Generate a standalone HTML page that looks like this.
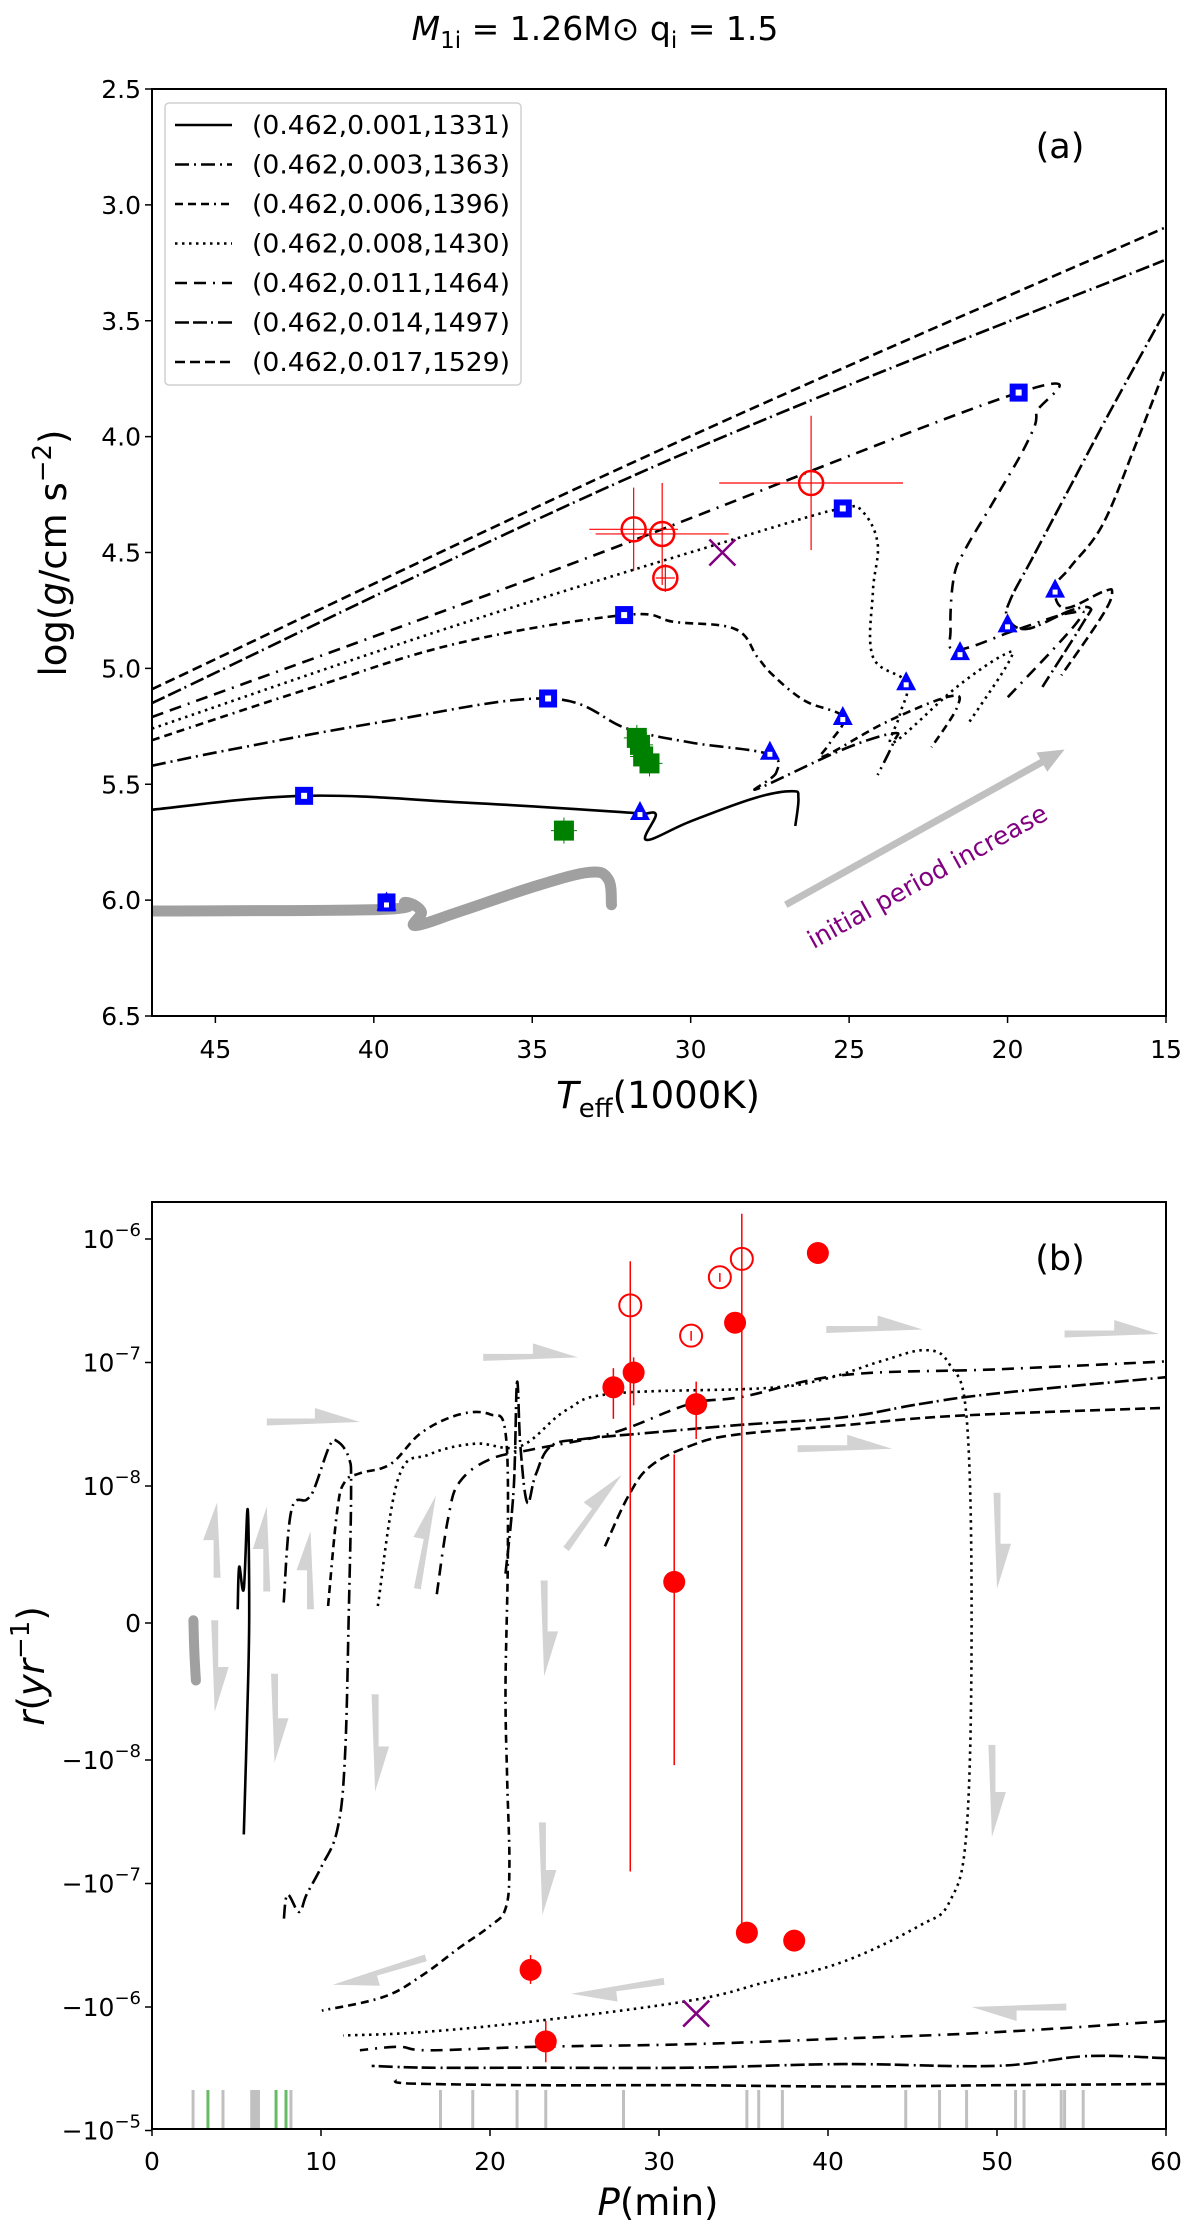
<!DOCTYPE html>
<html><head><meta charset="utf-8"><title>Evolution tracks</title>
<style>
html,body{margin:0;padding:0;background:#fff}
svg{display:block}
text{font-family:"DejaVu Sans","Liberation Sans",sans-serif;fill:#000}
</style></head>
<body>
<svg id="fig" width="1200" height="2231" viewBox="0 0 1200 2231" xmlns="http://www.w3.org/2000/svg">
<defs>
<clipPath id="clipA"><rect x="152" y="89" width="1014" height="927"/></clipPath>
<clipPath id="clipB"><rect x="152" y="1202" width="1014" height="927"/></clipPath>
</defs>
<text x="595" y="40" font-size="33" text-anchor="middle"><tspan font-style="italic">M</tspan><tspan font-size="23" dy="8">1i</tspan><tspan dy="-8"> = 1.26M</tspan><tspan>⊙ q</tspan><tspan font-size="23" dy="8">i</tspan><tspan dy="-8"> = 1.5</tspan></text>
<g id="panelA"></g>
<g id="panelB"></g>
</svg>
<script>
// ---------- Panel (a) data ----------
const tTicks = [45, 40, 35, 30, 25, 20, 15];
const gTicks = [2.5, 3.0, 3.5, 4.0, 4.5, 5.0, 5.5, 6.0, 6.5];
const legendLabels = ["(0.462,0.001,1331)","(0.462,0.003,1363)","(0.462,0.006,1396)","(0.462,0.008,1430)","(0.462,0.011,1464)","(0.462,0.014,1497)","(0.462,0.017,1529)"];
const track1T = [47,42.2,37,32.2,31.6,31.1,31.4,30,28,26.8,26.6,26.7];
const track1G = [5.61,5.55,5.58,5.62,5.63,5.63,5.74,5.66,5.56,5.53,5.56,5.68];
const track2T = [47,44.5,39.7,34.5,32.0,30.0,27.55,27.3,27.9,25.2,23.6,23.6,24.1];
const track2G = [5.42,5.35,5.23,5.13,5.26,5.32,5.37,5.45,5.52,5.35,5.28,5.32,5.46];
const track3T = [47,42.1,37.3,32.1,30.5,28.6,27.9,27.4,26.4,25.2,25.6,25.8,23.8,21.8,21.6,22.4];
const track3G = [5.31,5.09,4.89,4.77,4.80,4.83,4.95,5.03,5.14,5.21,5.32,5.38,5.23,5.12,5.17,5.34];
const track4T = [47,37.3,27.6,25.2,24.6,24.1,24.25,24.25,23.2,23.4,23.6,21.6,20.1,19.95,21.2];
const track4G = [5.26,4.81,4.40,4.31,4.32,4.46,4.67,4.95,5.06,5.20,5.32,5.08,4.94,4.97,5.23];
const track5T = [47,33.4,19.65,19.1,19.4,20.4,21.35,21.7,21.8,21.6,19.65,18.0,17.8,20.1];
const track5G = [5.21,4.53,3.81,3.90,4.03,4.27,4.49,4.61,4.83,4.92,4.83,4.76,4.80,5.14];
const track6T = [47,31.0,15.07,null,15.07,16.8,18.0,19.2,19.9,20.0,19.4,18.0,17.4,17.6,18.9];
const track6G = [5.15,4.12,3.24,null,3.47,3.90,4.21,4.52,4.70,4.78,4.83,4.75,4.74,4.80,5.08];
const track7T = [47,31.0,15.07,null,15.07,16.0,17.0,18.0,18.5,18.2,17.0,16.7,17.0,18.3];
const track7G = [5.09,4.06,3.10,null,3.72,4.05,4.38,4.56,4.65,4.74,4.67,4.67,4.77,5.03];
const grayT = [47,39.7,39.0,38.5,38.7,37.3,34.9,33.2,32.6,32.5];
const grayG = [6.047,6.04,6.01,6.05,6.11,6.05,5.94,5.88,5.91,6.02];
const squareT = [42.2,39.6,34.5,32.1,25.2,19.65];
const squareG = [5.55,6.01,5.13,4.77,4.31,3.81];
const triT = [39.6,31.6,27.5,25.2,23.2,21.5,20.0,18.5];
const triG = [6.01,5.62,5.36,5.21,5.06,4.93,4.81,4.66];
const obsT = [31.8,30.9,30.8,26.2];
const obsG = [4.40,4.42,4.61,4.20];
const obsTerr = [1.4,2.1,0.3,2.9];
const obsGerr = [0.18,0.22,0.06,0.29];
const xT = [29.0], xG = [4.50];
const greenT = [31.7,31.6,31.5,31.3,34.0];
const greenG = [5.30,5.33,5.38,5.41,5.70];

// ---------- Panel (b) data ----------
const pTicks = [0,10,20,30,40,50,60];
const rTicks = [1e-6,1e-7,1e-8,0,-1e-8,-1e-7,-1e-6,-1e-5];
const rTickExp = ["-6","-7","-8","","-8","-7","-6","-5"];
const b1P = [5.07,5.16,5.43,5.66,5.75,5.62,5.43];
const b1R = [1e-9,4.1e-9,2.5e-9,8.3e-9,4.7e-10,-7.3e-9,-4.0e-8];
const b2P = [7.79,8.24,9.15,9.6,10.5,10.96,11.64,11.78,11.64,11.41,10.96,10.05,9.15,8.7,8.02,7.79];
const b2R = [1.5e-9,8.2e-9,9e-9,9.8e-9,2.1e-8,2.3e-8,1.7e-8,9.8e-9,4.7e-10,-1e-8,-3.7e-8,-7.2e-8,-1.23e-7,-1.7e-7,-1.23e-7,-2.0e-7];
const b3P = [10.42,10.96,11.41,12.32,14.13,15.94,18.21,20.02,20.92,21.06,20.92,21.01,21.15,20.92,20.02,18.21,15.94,13.68,10.05];
const b3R = [1.24e-9,8.2e-9,1.08e-8,1.27e-8,1.51e-8,2.7e-8,3.8e-8,3.8e-8,2.7e-8,5.6e-9,-4.7e-9,-1.37e-8,-7.2e-8,-1.6e-7,-2.2e-7,-3.3e-7,-5.6e-7,-8.3e-7,-1.07e-6];
const b4P = [13.36,14.58,16.4,19.1,21.8,24.5,27.3,36.3,39.9,43.1,45.8,47.2,48.2,48.5,48.2,47.2,45.4,40.9,36.3,31.8,22.7,15.9,11.3];
const b4R = [1.24e-9,1.16e-8,1.8e-8,2.2e-8,2.1e-8,4.1e-8,5.6e-8,6.2e-8,7.4e-8,1.02e-7,1.26e-7,9.6e-8,3.6e-8,4.7e-10,-3.7e-8,-1.4e-7,-2.2e-7,-4.3e-7,-6.3e-7,-8.9e-7,-1.3e-6,-1.6e-6,-1.7e-6];
const b5P = [16.85,17.53,18.21,20.02,22.7,27.3,31.8,35.0,40.9,49.9,60,null,60,49.9,40.9,31.8,22.7,16.4,14.6,12.3];
const b5R = [2.1e-9,7.7e-9,1.08e-8,1.65e-8,2.0e-8,2.7e-8,4.6e-8,5.3e-8,7.9e-8,8.8e-8,1.02e-7,null,-1.3e-6,-1.6e-6,-1.8e-6,-2.0e-6,-2.1e-6,-2.24e-6,-2.1e-6,-2.24e-6];
const b6P = [20.92,21.4,21.6,21.8,22.2,22.7,23.6,25.5,29.5,34.5,40.9,45.4,49.9,60,null,60,55.3,49.9,40.9,31.8,22.7,16.4,13.0];
const b6R = [3.6e-9,9.8e-9,6.9e-8,2.1e-8,8.8e-9,1.23e-8,2.1e-8,2.4e-8,2.7e-8,3.1e-8,3.6e-8,4.6e-8,5.6e-8,7.6e-8,null,-2.6e-6,-2.5e-6,-3.0e-6,-2.9e-6,-3.1e-6,-3.1e-6,-3.1e-6,-3.0e-6];
const b7P = [26.8,28.2,29.5,31.8,34.5,40.9,47.6,60,null,60,49.9,40.9,31.8,22.7,16.4,14.6,14.4];
const b7R = [5.6e-9,9.3e-9,1.45e-8,2.1e-8,2.6e-8,3.1e-8,3.7e-8,4.3e-8,null,-4.2e-6,-4.3e-6,-4.4e-6,-4.3e-6,-4.3e-6,-4.2e-6,-4.1e-6,-3.9e-6];
const bGrayP = [2.45,2.5,2.6];
const bGrayR = [2e-10,-2e-9,-4.2e-9];
const fillP = [27.3,28.5,32.2,34.5,39.4,30.9,35.2,38.0,22.4,23.3];
const fillR = [6.3e-8,8.3e-8,4.6e-8,2.1e-7,7.7e-7,3.0e-9,-2.5e-7,-2.9e-7,-5.0e-7,-1.9e-6];
const fillLo = [3.5e-8,4.5e-8,2.4e-8,1.8e-7,7.5e-7,-1.1e-8,-2.5e-7,-2.9e-7,-6.5e-7,-2.8e-6];
const fillHi = [9.0e-8,1.1e-7,7.0e-8,2.4e-7,8.0e-7,1.8e-8,-2.5e-7,-2.9e-7,-3.8e-7,-1.3e-6];
const openP = [28.3,31.9,33.6,34.9];
const openR = [2.9e-7,1.65e-7,4.9e-7,6.9e-7];
const openLo = [-8e-8,1.5e-7,4.5e-7,-2.4e-7];
const openHi = [6.6e-7,1.8e-7,5.3e-7,1.6e-6];
const bxP = [32.2], bxR = [-1.13e-6];
const rugGrayP = [2.43,4.2,5.9,6.0,6.1,6.2,6.3,8.22,17.07,18.98,21.6,23.3,27.9,35.2,35.9,37.3,44.6,46.6,48.2,51.1,51.6,53.8,54.0,55.1];
const rugGreenP = [3.31,7.34,7.93];
const arrP1 = [6.79,19.6,39.9,54.0,38.2,16.2,30.3,54.1,3.85,6.79,9.38,15.7,24.5,3.71,7.25,13.2,23.2,23.1,50.0,49.7];
const arrR1 = [3.3e-8,1.1e-7,1.85e-7,1.7e-7,2.0e-8,-4.0e-7,-6.2e-7,-1e-6,3.3e-9,2.3e-9,1.0e-9,2.5e-9,5.4e-9,2e-10,-3.7e-9,-5.2e-9,3.1e-9,-3.2e-8,9.5e-9,-8.9e-9];
const arrP2 = [12.3,25.2,45.6,59.6,43.8,10.7,24.8,48.5,3.85,6.79,9.38,16.8,27.8,3.71,7.25,13.2,23.2,23.1,50.0,49.7];
const arrR2 = [3.3e-8,1.1e-7,1.85e-7,1.7e-7,2.0e-8,-6.6e-7,-7.8e-7,-1e-6,8.8e-9,8.5e-9,6.7e-9,9.3e-9,1.23e-8,-6.5e-9,-1.05e-8,-1.8e-8,-3.9e-9,-1.8e-7,2.5e-9,-4.2e-8];

// ---------- helpers ----------
const NS = "http://www.w3.org/2000/svg";
function mk(tag, attrs, parent){const e=document.createElementNS(NS,tag);for(const k in attrs)e.setAttribute(k,attrs[k]);parent.appendChild(e);return e;}
const A = {l:152,r:1166,t:89,b:1016};
const B = {l:152,r:1166,t:1202,b:2129};
function tx(T){return A.l+(47-T)/32*(A.r-A.l);}
function ty(g){return A.t+(g-2.5)/4*(A.b-A.t);}
function px(P){return B.l+P/60*(B.r-B.l);}
function ry(r){const a=Math.abs(r);let f=a>=1e-8?(Math.log10(a)+8)*123.5+137:a/1e-8*137;return 1623-(r<0?-f:f);}
function smoothSeg(pts){
  if(pts.length<2)return "";
  let d="M"+pts[0][0].toFixed(1)+","+pts[0][1].toFixed(1);
  for(let i=0;i<pts.length-1;i++){
    const p0=pts[Math.max(0,i-1)],p1=pts[i],p2=pts[i+1],p3=pts[Math.min(pts.length-1,i+2)];
    const k=0.18;
    const c1=[p1[0]+(p2[0]-p0[0])*k,p1[1]+(p2[1]-p0[1])*k];
    const c2=[p2[0]-(p3[0]-p1[0])*k,p2[1]-(p3[1]-p1[1])*k];
    d+="C"+c1.map(n=>n.toFixed(1)).join(",")+" "+c2.map(n=>n.toFixed(1)).join(",")+" "+p2[0].toFixed(1)+","+p2[1].toFixed(1);
  }
  return d;
}
function pathD(xs,ys,fx,fy){let d="",seg=[];for(let i=0;i<xs.length;i++){if(xs[i]===null){d+=smoothSeg(seg);seg=[];continue;}seg.push([fx(xs[i]),fy(ys[i])]);}d+=smoothSeg(seg);return d;}
const dashes = ["", "14,5,2,5", "8,5,8,5,8,5,2,5", "2.5,4.5", "12,7,12,7,2,7", "14,4,14,4,2,5", "10,5"];

// ---------- Panel A ----------
const pa = document.getElementById('panelA');
const ca = mk('g',{'clip-path':'url(#clipA)'},pa);
const gl = mk('path',{d:pathD(grayT,grayG,tx,ty),fill:'none',stroke:'#a0a0a0','stroke-width':11,'stroke-linecap':'round','stroke-linejoin':'round'},ca);


const tracksT=[track1T,track2T,track3T,track4T,track5T,track6T,track7T];
const tracksG=[track1G,track2G,track3G,track4G,track5G,track6G,track7G];
for(let i=0;i<7;i++){
  const p=mk('path',{d:pathD(tracksT[i],tracksG[i],tx,ty),fill:'none',stroke:'#000','stroke-width':2.6,'stroke-dasharray':dashes[i],'stroke-linejoin':'round'},ca);
  
  
}
const arrA = mk('g',{},ca);


(function(){const x1=tx(27.0),y1=ty(6.02),x2=tx(18.2),y2=ty(5.35);const dx=x2-x1,dy=y2-y1,L=Math.hypot(dx,dy),ux=dx/L,uy=dy/L,nx=-uy,ny=ux;const hl=26,hw=11,sw=3.5;const bx=x2-ux*hl,by=y2-uy*hl;
mk('polygon',{points:[[x1+nx*sw,y1+ny*sw],[bx+nx*sw,by+ny*sw],[bx+nx*hw,by+ny*hw],[x2,y2],[bx-nx*hw,by-ny*hw],[bx-nx*sw,by-ny*sw],[x1-nx*sw,y1-ny*sw]].map(p=>p.join(',')).join(' '),fill:'#c0c0c0'},arrA);})();
const ann = mk('text',{x:tx(22.4),y:ty(5.93),'font-size':25,'text-anchor':'middle',fill:'#800080',style:'fill:#800080',transform:'rotate(-29 '+tx(22.4)+' '+ty(5.93)+')'},pa);
ann.textContent='initial period increase';


for(let i=0;i<squareT.length;i++){const x=tx(squareT[i]),y=ty(squareG[i]);
  const s=mk('g',{},ca);
  
  
  mk('rect',{x:x-9,y:y-9,width:18,height:18,fill:'#0000ff'},s);
  mk('rect',{x:x-3,y:y-3,width:6,height:6,fill:'#fff'},s);}
for(let i=0;i<triT.length;i++){const x=tx(triT[i]),y=ty(triG[i]);
  const t=mk('g',{},ca);
  
  
  mk('polygon',{points:`${x},${y-11} ${x+10},${y+8} ${x-10},${y+8}`,fill:'#0000ff'},t);
  mk('rect',{x:x-2.5,y:y,width:5,height:5,fill:'#fff'},t);}
for(let i=0;i<greenT.length;i++){const x=tx(greenT[i]),y=ty(greenG[i]);
  const g=mk('g',{},ca);
  
  
  mk('line',{x1:x-13,y1:y,x2:x+13,y2:y,stroke:'#008000','stroke-width':1},g);
  mk('line',{x1:x,y1:y-13,x2:x,y2:y+13,stroke:'#008000','stroke-width':1},g);
  mk('rect',{x:x-10,y:y-10,width:20,height:20,fill:'#008000'},g);}
for(let i=0;i<obsT.length;i++){const x=tx(obsT[i]),y=ty(obsG[i]);
  const g=mk('g',{},ca);
  
  
  mk('line',{x1:tx(obsT[i]+obsTerr[i]),y1:y,x2:tx(obsT[i]-obsTerr[i]),y2:y,stroke:'#ff0000','stroke-width':1.2},g);
  mk('line',{x1:x,y1:ty(obsG[i]-obsGerr[i]),x2:x,y2:ty(obsG[i]+obsGerr[i]),stroke:'#ff0000','stroke-width':1.2},g);
  mk('circle',{cx:x,cy:y,r:12,fill:'none',stroke:'#ff0000','stroke-width':2.5},g);}
for(let i=0;i<xT.length;i++){const x=tx(xT[i]),y=ty(xG[i]);
  const g=mk('g',{},ca);
  
  
  mk('path',{d:`M${x-13},${y-13}L${x+13},${y+13}M${x-13},${y+13}L${x+13},${y-13}`,stroke:'#800080','stroke-width':2.5},g);}
const fa=mk('rect',{x:A.l,y:A.t,width:A.r-A.l,height:A.b-A.t,fill:'none',stroke:'#000','stroke-width':2},pa);


tTicks.forEach(v=>{const x=tx(v);mk('line',{x1:x,y1:A.b,x2:x,y2:A.b+7,stroke:'#000','stroke-width':1.5},pa);
  const t=mk('text',{x:x,y:A.b+42,'font-size':25,'text-anchor':'middle'},pa);t.textContent=String(v);
  
  });
gTicks.forEach(v=>{const y=ty(v);mk('line',{x1:A.l-7,y1:y,x2:A.l,y2:y,stroke:'#000','stroke-width':1.5},pa);
  const t=mk('text',{x:A.l-11,y:y+9,'font-size':25,'text-anchor':'end'},pa);t.textContent=v.toFixed(1);
  
  });
const lg=mk('g',{},pa);


mk('rect',{x:165,y:103,width:356,height:282,rx:4,fill:'#fff',stroke:'#d0d0d0','stroke-width':1.5},lg);
legendLabels.forEach((s,i)=>{const y=125+i*39.5;
  const e=mk('g',{},lg);
  
  
  mk('line',{x1:175,y1:y,x2:232,y2:y,stroke:'#000','stroke-width':2.6,'stroke-dasharray':dashes[i]},e);
  const t=mk('text',{x:252,y:y+9,'font-size':26,textLength:258,lengthAdjust:'spacingAndGlyphs'},e);t.textContent=s;});
const la=mk('text',{x:1060,y:158,'font-size':35,'text-anchor':'middle'},pa);la.textContent='(a)';


const xla=mk('text',{x:658,y:1108,'font-size':37,'text-anchor':'middle'},pa);
xla.innerHTML='<tspan font-style="italic">T</tspan><tspan font-size="26" dy="9">eff</tspan><tspan dy="-9">(1000K)</tspan>';


const yla=mk('text',{x:0,y:0,'font-size':37,'text-anchor':'middle',transform:'translate(66 553) rotate(-90)'},pa);
yla.innerHTML='log(<tspan font-style="italic">g</tspan>/cm s<tspan font-size="26" dy="-15">−2</tspan><tspan dy="15">)</tspan>';



// ---------- Panel B ----------
const pb=document.getElementById('panelB');
const cb=mk('g',{'clip-path':'url(#clipB)'},pb);
rugGrayP.forEach(v=>{const l=mk('line',{x1:px(v),y1:2090,x2:px(v),y2:2129,stroke:'#c0c0c0','stroke-width':3},cb);
  
  });
rugGreenP.forEach(v=>{const l=mk('line',{x1:px(v),y1:2090,x2:px(v),y2:2129,stroke:'#66bb66','stroke-width':3},cb);
  
  });
for(let i=0;i<arrP1.length;i++){
  const x1=px(arrP1[i]),y1=ry(arrR1[i]),x2=px(arrP2[i]),y2=ry(arrR2[i]);
  const dx=x2-x1,dy=y2-y1,L=Math.hypot(dx,dy),ux=dx/L,uy=dy/L,nx=-uy,ny=ux;
  const hl=Math.min(45,L*0.5),sw=3.5,hw=14;const bx=x2-ux*hl,by=y2-uy*hl;
  const p=mk('polygon',{points:[[x1+nx*sw,y1+ny*sw],[x2,y2],[bx-nx*hw,by-ny*hw],[bx-nx*sw,by-ny*sw],[x1-nx*sw,y1-ny*sw]].map(q=>q.map(n=>n.toFixed(1)).join(',')).join(' '),fill:'#d3d3d3'},cb);
  
  
}
const bg=mk('path',{d:pathD(bGrayP,bGrayR,px,ry),fill:'none',stroke:'#a0a0a0','stroke-width':10,'stroke-linecap':'round'},cb);


const bP=[b1P,b2P,b3P,b4P,b5P,b6P,b7P],bR=[b1R,b2R,b3R,b4R,b5R,b6R,b7R];
for(let i=0;i<7;i++){
  const p=mk('path',{d:pathD(bP[i],bR[i],px,ry),fill:'none',stroke:'#000','stroke-width':2.6,'stroke-dasharray':dashes[i],'stroke-linejoin':'round'},cb);
  
  
}
for(let i=0;i<fillP.length;i++){const x=px(fillP[i]);
  const g=mk('g',{},cb);
  
  
  mk('line',{x1:x,y1:ry(fillLo[i]),x2:x,y2:ry(fillHi[i]),stroke:'#ff0000','stroke-width':1.5},g);
  mk('circle',{cx:x,cy:ry(fillR[i]),r:11,fill:'#ff0000'},g);}
for(let i=0;i<openP.length;i++){const x=px(openP[i]);
  const g=mk('g',{},cb);
  
  
  mk('line',{x1:x,y1:ry(openLo[i]),x2:x,y2:ry(openHi[i]),stroke:'#ff0000','stroke-width':1.5},g);
  mk('circle',{cx:x,cy:ry(openR[i]),r:11,fill:'none',stroke:'#ff0000','stroke-width':2},g);}
for(let i=0;i<bxP.length;i++){const x=px(bxP[i]),y=ry(bxR[i]);
  const g=mk('g',{},cb);
  
  
  mk('path',{d:`M${x-13},${y-13}L${x+13},${y+13}M${x-13},${y+13}L${x+13},${y-13}`,stroke:'#800080','stroke-width':2.5},g);}
const fb=mk('rect',{x:B.l,y:B.t,width:B.r-B.l,height:B.b-B.t,fill:'none',stroke:'#000','stroke-width':2},pb);


pTicks.forEach(v=>{const x=px(v);mk('line',{x1:x,y1:B.b,x2:x,y2:B.b+7,stroke:'#000','stroke-width':1.5},pb);
  const t=mk('text',{x:x,y:B.b+41,'font-size':25,'text-anchor':'middle'},pb);t.textContent=String(v);
  
  });
rTicks.forEach((v,i)=>{const y=ry(v);mk('line',{x1:B.l-7,y1:y,x2:B.l,y2:y,stroke:'#000','stroke-width':1.5},pb);
  const t=mk('text',{x:B.l-11,y:y+9,'font-size':25,'text-anchor':'end'},pb);
  if(v===0){t.textContent='0';}else{t.innerHTML=(v<0?'−':'')+'10<tspan font-size="18" dy="-12">'+rTickExp[i].replace('-','−')+'</tspan>';}
  
  });
const lb=mk('text',{x:1060,y:1270,'font-size':35,'text-anchor':'middle'},pb);lb.textContent='(b)';


const xlb=mk('text',{x:658,y:2215,'font-size':37,'text-anchor':'middle'},pb);
xlb.innerHTML='<tspan font-style="italic">P</tspan>(min)';


const ylb=mk('text',{x:0,y:0,'font-size':37,'text-anchor':'middle',transform:'translate(44 1666) rotate(-90)'},pb);
ylb.innerHTML='<tspan font-style="italic">r</tspan>(<tspan font-style="italic">yr</tspan><tspan font-size="26" dy="-15">−1</tspan><tspan dy="15">)</tspan>';


</script>
</body></html>
